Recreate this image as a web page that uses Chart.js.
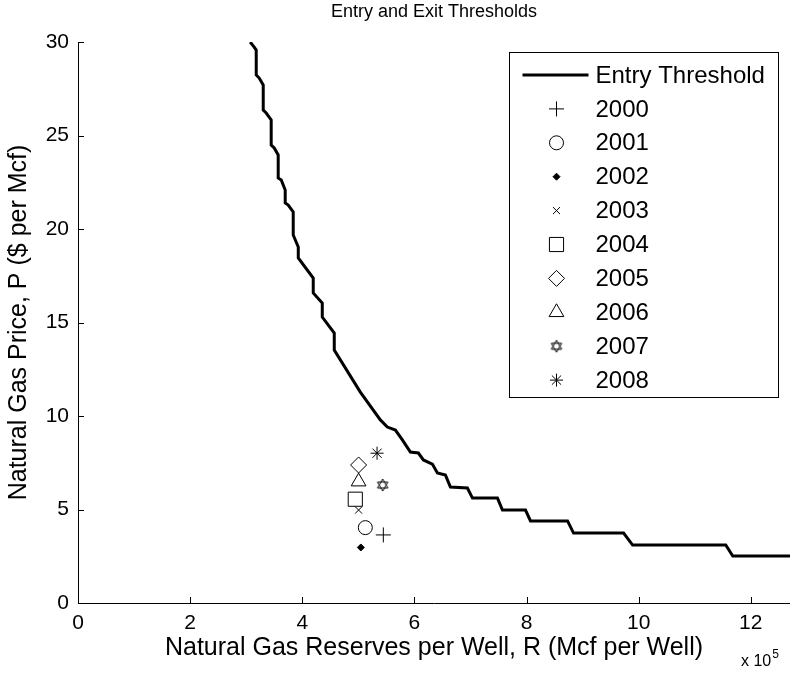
<!DOCTYPE html>
<html>
<head>
<meta charset="utf-8">
<script src="https://cdn.jsdelivr.net/npm/chart.js@4/dist/chart.umd.min.js"></script>
<style>
  html, body { margin: 0; padding: 0; background: #ffffff; }
  #wrap { position: relative; width: 790px; height: 673px; }
</style>
</head>
<body>
<div id="wrap"><canvas id="c" width="790" height="673"></canvas></div>
<script>
// ---- Data ----
const chartTitle = 'Entry and Exit Thresholds';
const xAxisTitle = 'Natural Gas Reserves per Well, R (Mcf per Well)';
const yAxisTitle = 'Natural Gas Price, P ($ per Mcf)';
const entryLabel = 'Entry Threshold';

// Entry threshold curve: reserves per well (Mcf) and price ($/Mcf)
const entryR = [307100, 314300, 317900, 317900, 323200, 330400, 330400, 335700, 344600, 344600,
                350000, 357100, 357100, 362500, 369600, 369600, 375000, 383900, 383900, 392900,
                392900, 419600, 419600, 435700, 435700, 457100, 457100, 503600, 539300, 551800,
                566100, 578600, 592900, 607100, 616100, 632100, 641100, 655400, 664300, 694600,
                703600, 748200, 757100, 798200, 807100, 873200, 883900, 973200, 989300, 1155400,
                1167900, 1270000];
const entryP = [30.00, 29.73, 29.57, 28.24, 28.07, 27.70, 26.36, 26.20, 25.83, 24.49,
                24.33, 23.96, 22.73, 22.62, 22.09, 21.39, 21.28, 20.91, 19.68, 19.04,
                18.45, 17.38, 16.58, 16.04, 15.29, 14.44, 13.53, 11.28, 9.79, 9.41,
                9.25, 8.72, 8.07, 8.02, 7.65, 7.43, 6.95, 6.84, 6.20, 6.15,
                5.61, 5.61, 4.97, 4.97, 4.39, 4.39, 3.74, 3.74, 3.10, 3.10,
                2.51, 2.51];

// Yearly observations
const years  = ['2000', '2001', '2002', '2003', '2004', '2005', '2006', '2007', '2008'];
const yearR  = [544600, 512500, 504500, 500500, 494600, 500500, 500500, 543400, 533400];
const yearP  = [3.64, 4.03, 2.97, 4.97, 5.55, 7.38, 6.49, 6.31, 8.01];

// Axis ranges and ticks
const xMin = 0, xMax = 1270000, xExponent = 5;
const xTickValues = [0, 200000, 400000, 600000, 800000, 1000000, 1200000];
const yMin = 0, yMax = 30;
const yTickValues = [0, 5, 10, 15, 20, 25, 30];

// ---- Styling ----
const FONT = "'Liberation Sans', Arial, sans-serif";

// hexagram marker for 2007
function makeHexagram(size) {
  const c = document.createElement('canvas');
  c.width = size; c.height = size;
  const g = c.getContext('2d');
  const cx = size / 2, cy = size / 2, r = size / 2 - 1;
  g.strokeStyle = '#000'; g.lineWidth = 1;
  for (const off of [-Math.PI / 2, Math.PI / 2]) {
    g.beginPath();
    for (let i = 0; i < 3; i++) {
      const a = off + i * 2 * Math.PI / 3;
      const px = cx + r * Math.cos(a), py = cy + r * Math.sin(a);
      if (i === 0) g.moveTo(px, py); else g.lineTo(px, py);
    }
    g.closePath();
    g.stroke();
  }
  return c;
}
const hexagram = makeHexagram(14);

const markerStyles = [
  { pointStyle: 'cross',    radius: 7.5, fill: false },
  { pointStyle: 'circle',   radius: 7,   fill: false },
  { pointStyle: 'rectRot',  radius: 3.5, fill: true  },
  { pointStyle: 'crossRot', radius: 5,   fill: false },
  { pointStyle: 'rect',     radius: 10,  fill: false },
  { pointStyle: 'rectRot',  radius: 8,   fill: false },
  { pointStyle: 'triangle', radius: 8.5, fill: false },
  { pointStyle: hexagram,   radius: 7,   fill: false },
  { pointStyle: 'star',     radius: 6.5, fill: false }
];

const datasets = [{
  label: entryLabel,
  data: entryR.map((r, i) => ({ x: r, y: entryP[i] })),
  showLine: true,
  borderColor: '#000',
  borderWidth: 3,
  pointRadius: 0,
  pointHoverRadius: 0,
  tension: 0,
  order: 1
}];
years.forEach((yr, i) => {
  const m = markerStyles[i];
  datasets.push({
    label: yr,
    data: [{ x: yearR[i], y: yearP[i] }],
    showLine: false,
    pointStyle: m.pointStyle,
    pointRadius: m.radius,
    pointHoverRadius: m.radius,
    borderColor: '#000',
    backgroundColor: m.fill ? '#000' : 'rgba(0,0,0,0)',
    pointBorderWidth: 1,
    borderWidth: 1,
    order: 0
  });
});

// inward tick marks + exponent label + framed legend
const matlabDecor = {
  id: 'matlabDecor',
  afterDraw(chart) {
    const ctx = chart.ctx;
    const xs = chart.scales.x, ys = chart.scales.y;
    const area = chart.chartArea;
    ctx.save();
    ctx.strokeStyle = '#000';
    ctx.lineWidth = 1;
    // inward ticks
    xs.ticks.forEach(t => {
      if (t.value === xMin) return;
      const px = Math.round(xs.getPixelForValue(t.value)) + 0.5;
      ctx.beginPath(); ctx.moveTo(px, area.bottom); ctx.lineTo(px, area.bottom - 6); ctx.stroke();
    });
    ys.ticks.forEach(t => {
      if (t.value === yMin) return;
      const py = Math.round(ys.getPixelForValue(t.value)) + 0.5;
      ctx.beginPath(); ctx.moveTo(area.left, py); ctx.lineTo(area.left + 6, py); ctx.stroke();
    });

    // exponent label "x 10^5"
    ctx.fillStyle = '#000';
    ctx.textBaseline = 'alphabetic';
    ctx.textAlign = 'left';
    ctx.font = '16px ' + FONT;
    const ex = area.right - 49, ey = area.bottom + 63;
    ctx.fillText('x 10', ex, ey);
    const w = ctx.measureText('x 10').width;
    ctx.font = '12px ' + FONT;
    ctx.fillText(String(xExponent), ex + w + 1, ey - 8);

    // legend
    const boxRight = area.right - 11.5, boxTop = area.top + 10.5;
    const boxW = 269, boxH = 345;
    const boxLeft = boxRight - boxW;
    ctx.fillStyle = '#fff';
    ctx.fillRect(boxLeft, boxTop, boxW, boxH);
    ctx.strokeStyle = '#000';
    ctx.lineWidth = 1;
    ctx.strokeRect(boxLeft, boxTop, boxW, boxH);
    const rowH = 33.9;
    const firstY = boxTop + 22.5;
    const symX = boxLeft + 47;
    const textX = boxLeft + 86;
    ctx.font = '24px ' + FONT;
    ctx.textBaseline = 'middle';
    ctx.textAlign = 'left';
    chart.data.datasets.forEach((ds, i) => {
      const y = firstY + i * rowH;
      if (i === 0) {
        ctx.strokeStyle = ds.borderColor;
        ctx.lineWidth = ds.borderWidth;
        ctx.beginPath(); ctx.moveTo(boxLeft + 13, y); ctx.lineTo(boxLeft + 79, y); ctx.stroke();
      } else {
        ctx.strokeStyle = ds.borderColor;
        ctx.fillStyle = ds.backgroundColor;
        ctx.lineWidth = 1;
        Chart.helpers.drawPoint(ctx, {
          pointStyle: ds.pointStyle,
          radius: ds.pointRadius,
          rotation: 0,
          borderWidth: 1
        }, symX, y);
      }
      ctx.fillStyle = '#000';
      ctx.fillText(ds.label, textX, y + 1);
    });
    ctx.restore();
  }
};

Chart.defaults.font.family = FONT;
Chart.defaults.color = '#000';

new Chart(document.getElementById('c'), {
  type: 'scatter',
  data: { datasets },
  plugins: [matlabDecor],
  options: {
    responsive: false,
    animation: false,
    devicePixelRatio: 1,
    layout: { autoPadding: false, padding: { left: 0, right: 0, top: 0, bottom: 0 } },
    plugins: {
      legend: { display: false },
      tooltip: { enabled: false },
      title: {
        display: true,
        text: chartTitle,
        fullSize: false,
        color: '#000',
        font: { size: 18, weight: 'normal', family: FONT },
        padding: { top: 1, bottom: 19.4 }
      }
    },
    scales: {
      x: {
        type: 'linear',
        min: xMin, max: xMax,
        grid: { display: true, drawOnChartArea: false, drawTicks: false },
        border: { display: true, color: '#000', width: 1 },
        ticks: {
          padding: 8,
          color: '#000',
          autoSkip: false,
          font: { size: 21, family: FONT },
          maxRotation: 0,
          callback: v => String(Math.round(v / Math.pow(10, xExponent)))
        },
        afterBuildTicks: s => { s.ticks = xTickValues.map(v => ({ value: v })); },
        afterFit: s => { s.height = 70; s.paddingRight = 0; },
        title: {
          display: true,
          text: xAxisTitle,
          color: '#000',
          font: { size: 25, family: FONT },
          padding: { top: 0, bottom: 10 }
        }
      },
      y: {
        type: 'linear',
        min: yMin, max: yMax,
        grid: { display: true, drawOnChartArea: false, drawTicks: false },
        border: { display: true, color: '#000', width: 1 },
        ticks: {
          padding: 9,
          color: '#000',
          autoSkip: false,
          font: { size: 21, family: FONT }
        },
        afterBuildTicks: s => { s.ticks = yTickValues.map(v => ({ value: v })); },
        afterFit: s => { s.width = 78; },
        title: {
          display: true,
          text: yAxisTitle,
          color: '#000',
          font: { size: 25, family: FONT },
          padding: { top: 4, bottom: 0 }
        }
      }
    }
  }
});
</script>
</body>
</html>
